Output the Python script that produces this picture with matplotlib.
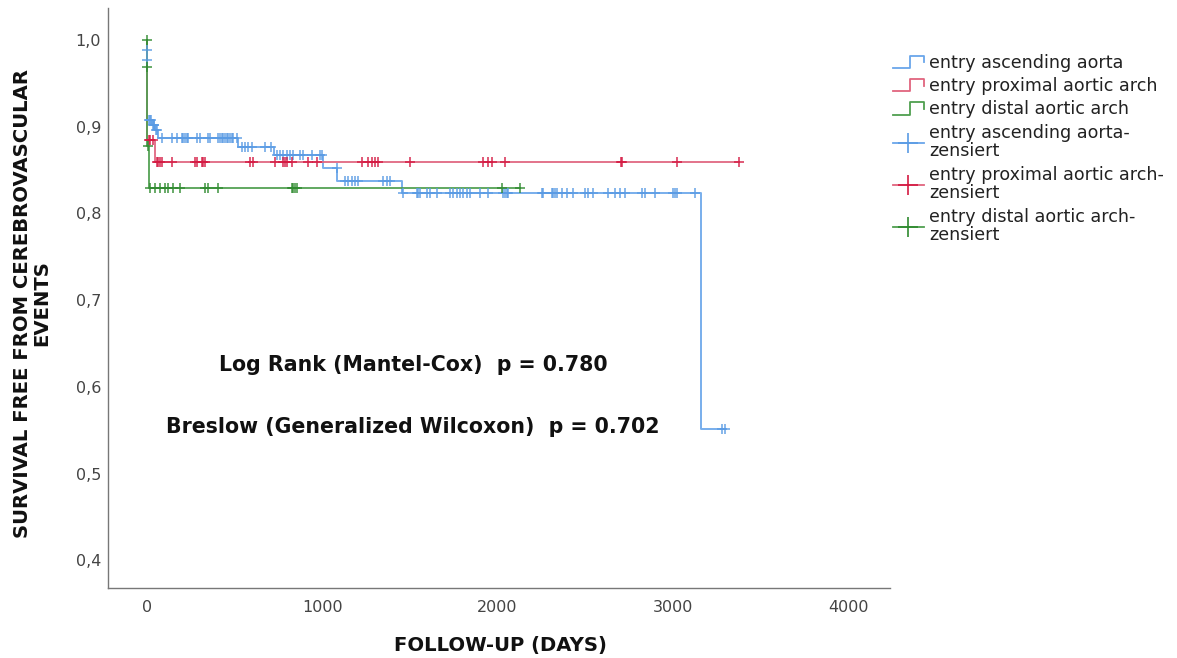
import numpy as np
import matplotlib
matplotlib.use("Agg")
import matplotlib.pyplot as plt
from matplotlib.lines import Line2D
from matplotlib.legend_handler import HandlerBase
from matplotlib import font_manager

# --- data (days, survival) ---
asc_event_t = [0, 1, 3, 28, 45, 65, 521, 722, 1006, 1083, 1455, 3160]
asc_event_s = [0.989, 0.977, 0.908, 0.902, 0.896, 0.887, 0.877, 0.867, 0.853, 0.838, 0.824, 0.551]
asc_cens_t = [0.5, 1.5, 10, 18, 25, 32, 38, 42, 50, 58,
              84, 141, 169, 198, 207, 217, 226, 236, 283, 302, 350, 359, 407, 416, 426, 435,
              445, 454, 464, 473, 483, 492, 512,
              540, 559, 578, 597, 673, 705,
              740, 759, 778, 797, 816, 835, 873, 892, 940, 987, 997,
              1082,
              1130, 1148, 1168, 1187, 1206, 1348, 1367, 1386,
              1462, 1538, 1548, 1557, 1595, 1614, 1653, 1728, 1747, 1767, 1786, 1805, 1824,
              1843, 1900, 1947, 2033, 2042, 2052, 2061, 2251, 2261, 2309, 2318, 2327, 2337,
              2366, 2394, 2432, 2499, 2518, 2546, 2632, 2670, 2698, 2727, 2822, 2841, 2898,
              3002, 3012, 3022, 3126,
              3278, 3297]

prox_event_t = [2, 46]
prox_event_s = [0.885, 0.859]
prox_cens_t = [10, 20, 36,
               55, 65, 74, 84, 141, 274, 283, 312, 321, 331, 588, 606, 730, 778, 788, 797,
               825, 920, 968, 1225, 1262, 1282, 1301, 1320, 1500, 1919, 1947, 1966, 2042,
               2705, 2712, 3022, 3379]

dist_event_t = [0.3, 2, 13]
dist_event_s = [0.969, 0.878, 0.829]
dist_cens_t = [0.1, 1, 5,
               20, 46, 74, 103, 122, 150, 188, 331, 350, 407, 825, 835, 844, 854, 2023, 2128]

labels = ["entry ascending aorta", "entry proximal aortic arch", "entry distal aortic arch"]
cens_labels = ["entry ascending aorta-\nzensiert", "entry proximal aortic arch-\nzensiert",
               "entry distal aortic arch-\nzensiert"]
line_colors = ["#6aa6ea", "#e0647e", "#4f9f4f"]
mark_colors = ["#5a9be4", "#d41a42", "#2f8a2f"]

names = {f.name for f in font_manager.fontManager.ttflist}
narrow = "Liberation Sans Narrow" if "Liberation Sans Narrow" in names else "DejaVu Sans"


class StepHandler(HandlerBase):
    def create_artists(self, legend, orig_handle, xdescent, ydescent, width, height, fontsize, trans):
        x0, y0 = -xdescent, -ydescent
        xs = [x0, x0 + width * 0.55, x0 + width * 0.55, x0 + width, x0 + width]
        ys = [y0, y0, y0 + height * 1.0, y0 + height * 1.0, y0 + height * 0.45]
        return [Line2D(xs, ys, color=orig_handle.get_color(), lw=1.3, transform=trans)]


fig = plt.figure(figsize=(11.77, 6.58), dpi=100)
ax = fig.add_axes([108 / 1177, 1 - 588 / 658, (890 - 108) / 1177, (588 - 8) / 658])

groups = [(asc_event_t, asc_event_s, asc_cens_t),
          (prox_event_t, prox_event_s, prox_cens_t),
          (dist_event_t, dist_event_s, dist_cens_t)]

step_handles = []
for i, (et, es, ct) in enumerate(groups):
    end = max(max(ct), max(et))
    xs = [0] + list(et) + [end]
    ys = [1.0] + list(es) + [es[-1]]
    ax.step(xs, ys, where="post", color=line_colors[i], lw=1.4, alpha=0.9, zorder=2 + i * 0.1)
    surv = np.concatenate([[1.0], es])
    cy = surv[np.searchsorted(et, ct, side="right")]
    ax.plot(ct, cy, linestyle="none", marker="+", markersize=7, mew=1.2,
            color=mark_colors[i], alpha=0.85, zorder=3)
    step_handles.append(Line2D([0], [0], color=line_colors[i]))

cens_handles = [Line2D([0], [0], color=line_colors[i], marker="+", markersize=15,
                       mew=1.2, mec=mark_colors[i], lw=1.3) for i in range(3)]

ax.set_xlim(-222, 4238)
ax.set_ylim(0.368, 1.037)
ax.set_xticks([0, 1000, 2000, 3000, 4000])
ax.set_yticks([0.4, 0.5, 0.6, 0.7, 0.8, 0.9, 1.0])
ax.set_yticklabels(["0,4", "0,5", "0,6", "0,7", "0,8", "0,9", "1,0"])
ax.tick_params(length=0, labelsize=11.5, colors="#444444")
ax.tick_params(axis="y", pad=5)
ax.tick_params(axis="x", pad=9)
for s in ["top", "right"]:
    ax.spines[s].set_visible(False)
for s in ["left", "bottom"]:
    ax.spines[s].set_color("#777777")
    ax.spines[s].set_linewidth(1.0)

ax.text(1517, 0.625, "Log Rank (Mantel-Cox)  p = 0.780", ha="center", va="center",
        fontsize=14.8, fontweight="bold", color="#111111")
ax.text(1517, 0.554, "Breslow (Generalized Wilcoxon)  p = 0.702", ha="center", va="center",
        fontsize=14.8, fontweight="bold", color="#111111")

ylab = fig.text(32 / 1177, 1 - 303 / 658, "SURVIVAL FREE FROM CEREBROVASCULAR\nEVENTS",
                rotation=90, ha="center", va="center", multialignment="center", fontsize=17,
                fontweight="bold", family=narrow, color="#111111", linespacing=1.0)
xlab = fig.text(500 / 1177, 1 - 645 / 658, "FOLLOW-UP (DAYS)", ha="center", va="center",
                fontsize=17, fontweight="bold", family=narrow, color="#111111")

# shrink the axis titles if the condensed face is missing so they keep the original length
renderer = fig.canvas.get_renderer()
w = xlab.get_window_extent(renderer).width
scale = min(1.0, 214 / w)
xlab.set_fontsize(17 * scale)
ylab.set_fontsize(17 * scale)

leg = fig.legend(step_handles + cens_handles, labels + cens_labels,
                 handler_map={h: StepHandler() for h in step_handles},
                 loc="upper left", bbox_to_anchor=(893 / 1177, 1 - 54 / 658),
                 frameon=False, fontsize=12.6, handlelength=1.75, handletextpad=0.3,
                 labelspacing=0.3, borderpad=0, borderaxespad=0, labelcolor="#222222")
for t in leg.get_texts():
    t.set_linespacing(1.05)

fig.savefig("out.png", dpi=100)
